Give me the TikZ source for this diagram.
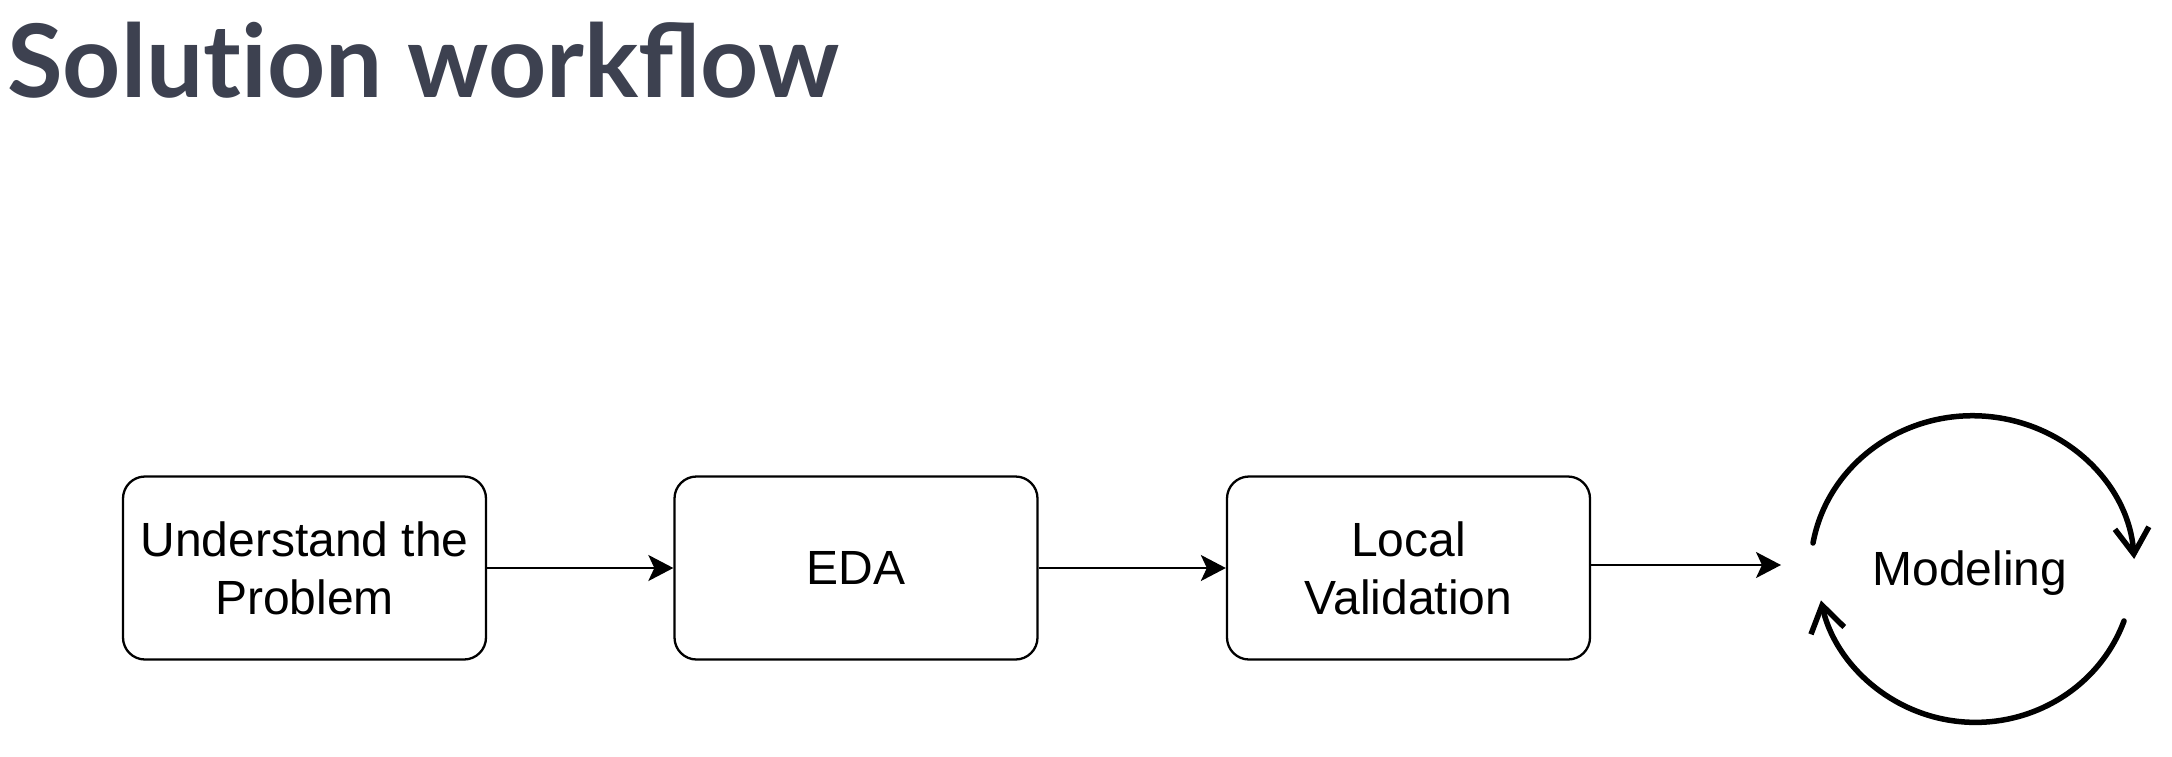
\documentclass[tikz,border=0pt]{standalone}
\usepackage{fontspec}
\setmainfont{Liberation Sans}
\newfontfamily\titlefont{Lato}
\usetikzlibrary{arrows.meta}
\definecolor{titlegray}{HTML}{3D4150}
\tikzset{
  stepbox/.style={draw=black, line width=2.3pt, rounded corners=22pt, minimum width=363pt, minimum height=183pt, align=center, inner sep=0pt, font=\fontsize{48}{58}\selectfont},
  flow/.style={line width=2.3pt, -{Stealth[length=25pt, width=26pt, inset=6pt]}},
  cyc/.style={line width=5.5pt, line cap=round, -{Straight Barb[length=26pt, width=34pt, line width=5.5pt]}}
}
\begin{document}
\begin{tikzpicture}[x=1pt, y=-1pt]
\useasboundingbox (0,0) rectangle (2172,756);
\node[anchor=base west, inner sep=0pt, text=titlegray, font=\titlefont\bfseries\fontsize{101.5}{110}\selectfont] (title) at (7,97) {Solut\kern0pt ion workflow};
\node[stepbox] (understand) at (304.5,568) {Understand the\\Problem};
\node[stepbox] (eda) at (856,568) {EDA};
\node[stepbox] (local) at (1408.5,568) {Local\\Validation};
\node[anchor=base, inner sep=0pt, font=\fontsize{48}{58}\selectfont] (modeling) at (1970,585) {Modeling};
\coordinate (min) at (1781,565);
\draw[flow] (understand) -- (eda);
\draw[flow] (eda) -- (local);
\draw[flow] (local.east |- min) -- (min);
\coordinate (topstart) at (1813,543);
\coordinate (botstart) at (2124,621);
\draw[cyc] (topstart) arc[start angle=170, end angle=4, x radius=162pt, y radius=154pt];
\draw[cyc] (botstart) arc[start angle=-20, end angle=-168, x radius=158pt, y radius=154pt];
\end{tikzpicture}
\end{document}
